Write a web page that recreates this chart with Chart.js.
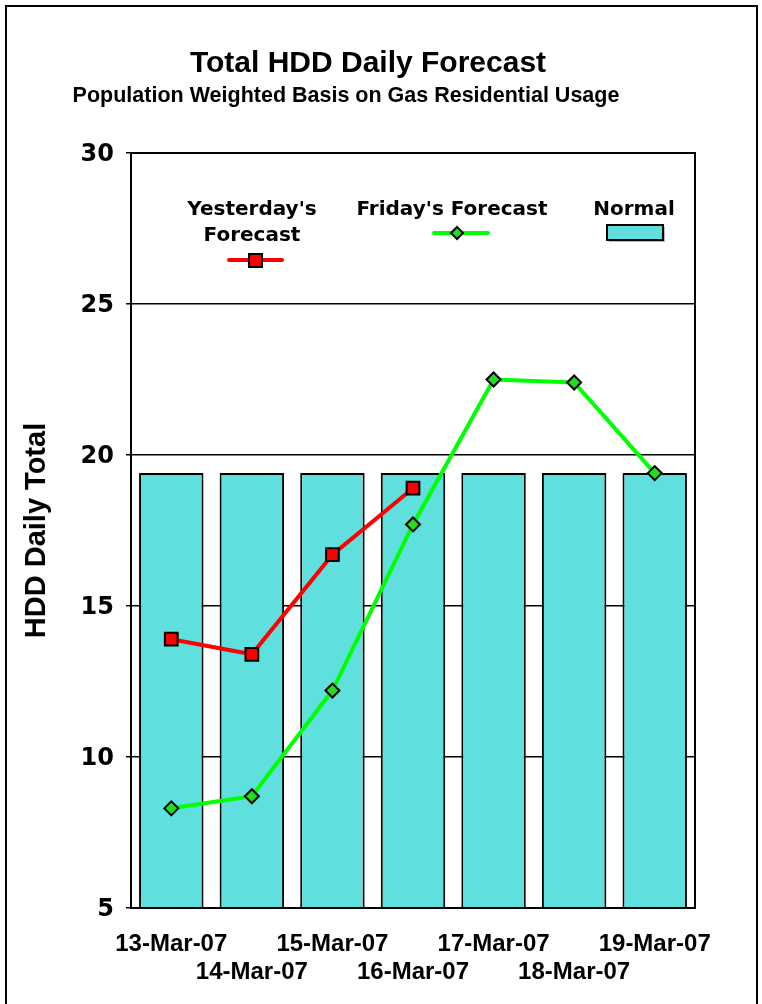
<!DOCTYPE html>
<html>
<head>
<meta charset="utf-8">
<title>Total HDD Daily Forecast</title>
<script src="https://cdn.jsdelivr.net/npm/chart.js@4.4.1/dist/chart.umd.min.js"></script>
<style>
  html, body { margin: 0; padding: 0; background: #fff; }
  #wrap { width: 762px; height: 1004px; position: relative; }
</style>
</head>
<body>
<div id="wrap"><canvas id="hddChart"></canvas></div>
<script>
const days = ['13-Mar-07', '14-Mar-07', '15-Mar-07', '16-Mar-07', '17-Mar-07', '18-Mar-07', '19-Mar-07']
const yesterdayFc = [13.9, 13.4, 16.7, 18.9, null, null, null]
const fridayFc = [8.3, 8.7, 12.2, 17.7, 22.5, 22.4, 19.4]
const normal = [19.4, 19.4, 19.4, 19.4, 19.4, 19.4, 19.4]
const yTicks = [5, 10, 15, 20, 25, 30]

const RED = '#ff0000'
const GREEN = '#00ff00'
const GREEN_PT = '#22dd22'
const CYAN = '#60dfdf'

// staggered two-row labels like the original
const xLabels = days.map((d, i) => i % 2 === 0 ? [d, ''] : ['', d])

// frame, titles, plot border and the legend drawn inside the plot
const decor = {
    id: 'decor',
    beforeDraw(chart) {
        const ctx = chart.ctx
        ctx.save()
        ctx.fillStyle = '#fff'
        ctx.fillRect(0, 0, chart.width, chart.height)
        ctx.strokeStyle = '#000'
        ctx.lineWidth = 2
        ctx.strokeRect(6, 6, 751, 1020)
        ctx.restore()
    },
    afterDraw(chart) {
        const ctx = chart.ctx
        const a = chart.chartArea
        ctx.save()
        ctx.fillStyle = '#000'
        ctx.textAlign = 'center'
        ctx.textBaseline = 'middle'
        ctx.font = 'bold 30px "Liberation Sans", Arial, sans-serif'
        ctx.fillText('Total HDD Daily Forecast', 368, 64)
        ctx.font = 'bold 21.5px "Liberation Sans", Arial, sans-serif'
        ctx.fillText('Population Weighted Basis on Gas Residential Usage', 346, 96)

        // plot border
        ctx.strokeStyle = '#000'
        ctx.lineWidth = 2
        ctx.strokeRect(a.left, a.top, a.right - a.left, a.bottom - a.top)

        // legend
        ctx.font = 'bold 20px "DejaVu Sans", Verdana, sans-serif'
        ctx.fillText("Yesterday's", 252, 210)
        ctx.fillText('Forecast', 252, 236)
        ctx.fillText("Friday's Forecast", 452, 210)
        ctx.fillText('Normal', 634, 210)

        ctx.lineWidth = 4
        ctx.lineCap = 'round'
        ctx.strokeStyle = RED
        ctx.beginPath(); ctx.moveTo(229, 260); ctx.lineTo(282, 260); ctx.stroke()
        ctx.fillStyle = RED
        ctx.lineWidth = 2
        ctx.strokeStyle = '#000'
        ctx.fillRect(249, 254, 13, 13)
        ctx.strokeRect(249, 254, 13, 13)

        ctx.lineWidth = 4
        ctx.strokeStyle = GREEN
        ctx.beginPath(); ctx.moveTo(434, 233); ctx.lineTo(488, 233); ctx.stroke()
        ctx.fillStyle = GREEN_PT
        ctx.lineWidth = 2
        ctx.strokeStyle = '#000'
        ctx.beginPath()
        ctx.moveTo(457, 227); ctx.lineTo(463, 233); ctx.lineTo(457, 239); ctx.lineTo(451, 233)
        ctx.closePath(); ctx.fill(); ctx.stroke()

        ctx.fillStyle = '#bbb'
        ctx.fillRect(609, 227, 56, 15)
        ctx.fillStyle = CYAN
        ctx.fillRect(607, 225, 56, 15)
        ctx.strokeRect(607, 225, 56, 15)
        ctx.restore()
    }
}

new Chart(document.getElementById('hddChart'), {
    type: 'bar',
    data: {
        labels: xLabels,
        datasets: [
            {
                type: 'line',
                label: "Yesterday's Forecast",
                data: yesterdayFc,
                borderColor: RED,
                borderWidth: 4,
                pointStyle: 'rect',
                pointRadius: 9,
                pointBackgroundColor: RED,
                pointBorderColor: '#000',
                pointBorderWidth: 2,
                spanGaps: false,
                order: 1
            },
            {
                type: 'line',
                label: "Friday's Forecast",
                data: fridayFc,
                borderColor: GREEN,
                borderWidth: 4,
                pointStyle: 'rectRot',
                pointRadius: 7,
                pointBackgroundColor: GREEN_PT,
                pointBorderColor: '#000',
                pointBorderWidth: 2,
                order: 2
            },
            {
                label: 'Normal',
                data: normal,
                backgroundColor: CYAN,
                borderColor: '#000',
                borderWidth: 2,
                barPercentage: 0.8,
                categoryPercentage: 1,
                order: 3
            }
        ]
    },
    options: {
        responsive: true,
        maintainAspectRatio: false,
        animation: false,
        layout: { padding: { top: 153, right: 67, left: 0, bottom: 0 } },
        plugins: {
            legend: { display: false },
            tooltip: { enabled: false }
        },
        scales: {
            x: {
                grid: { display: false, drawTicks: false },
                border: { display: false },
                ticks: {
                    color: '#000',
                    padding: 22,
                    maxRotation: 0,
                    autoSkip: false,
                    font: { family: '"Liberation Sans", Arial, sans-serif', weight: 'bold', size: 24, lineHeight: 1.167 }
                },
                afterFit(s) { s.height = 96 }
            },
            y: {
                min: 5,
                max: 30,
                afterBuildTicks(s) { s.ticks = yTicks.map(v => ({ value: v })) },
                grid: { color: '#000', lineWidth: 1.5, tickLength: 5 },
                border: { display: false },
                ticks: {
                    color: '#000',
                    padding: 12,
                    labelOffset: 2,
                    font: { family: '"DejaVu Sans", Verdana, sans-serif', weight: 'bold', size: 24 }
                },
                title: {
                    display: true,
                    text: 'HDD Daily Total',
                    color: '#000',
                    padding: { top: 20, bottom: 0 },
                    font: { family: '"Liberation Sans", Arial, sans-serif', weight: 'bold', size: 29, lineHeight: 1.2 }
                },
                afterFit(s) { s.width = 131 }
            }
        }
    },
    plugins: [decor]
})
</script>
</body>
</html>
